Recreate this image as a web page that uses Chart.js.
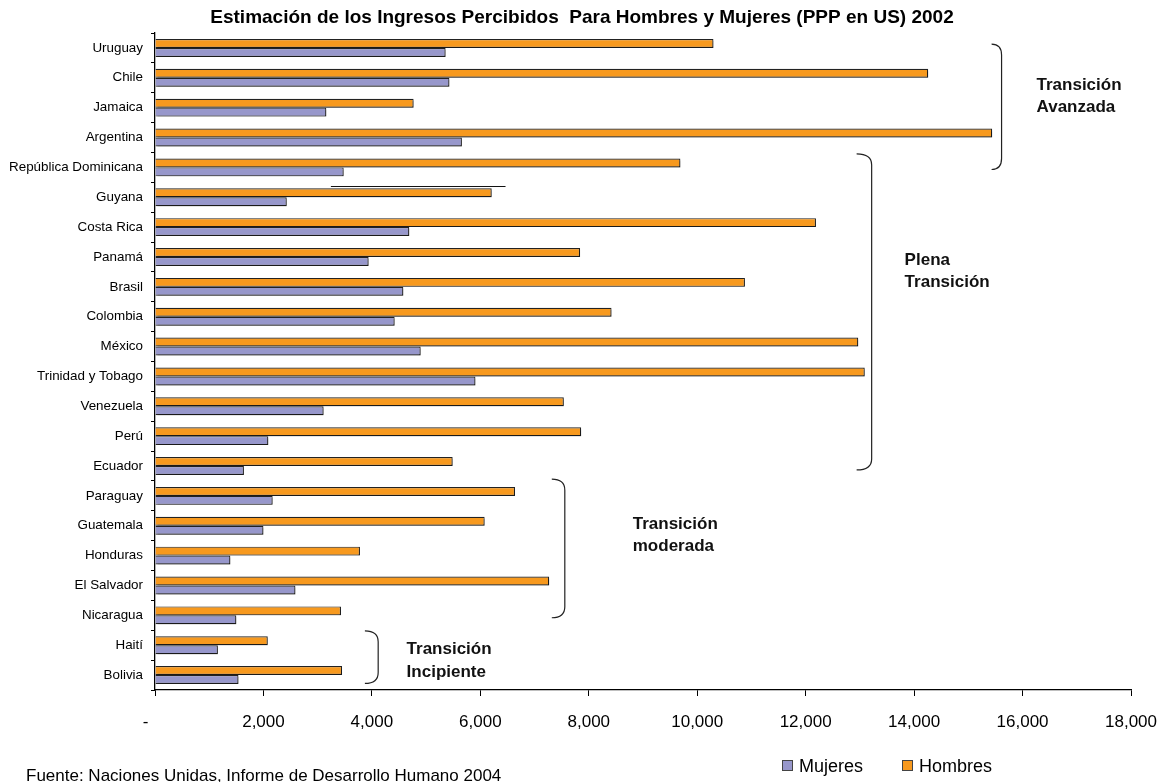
<!DOCTYPE html>
<html>
<head>
<meta charset="utf-8">
<script src="https://cdn.jsdelivr.net/npm/chart.js@4.4.0/dist/chart.umd.min.js"></script>
<style>
  html, body { margin: 0; padding: 0; background: #fff; }
  #wrap { width: 1163px; height: 782px; }
</style>
</head>
<body>
<div id="wrap"><canvas id="ingresos" width="1163" height="782"></canvas></div>
<script>
// Ingresos percibidos por sexo (PPP en US), 2002
const countries = ['Uruguay', 'Chile', 'Jamaica', 'Argentina', 'República Dominicana', 'Guyana',
  'Costa Rica', 'Panamá', 'Brasil', 'Colombia', 'México', 'Trinidad y Tobago', 'Venezuela', 'Perú',
  'Ecuador', 'Paraguay', 'Guatemala', 'Honduras', 'El Salvador', 'Nicaragua', 'Haití', 'Bolivia'];
const hombres = [10300, 14260, 4770, 15440, 9690, 6210, 12190, 7840, 10880, 8420, 12970, 13090,
  7540, 7860, 5490, 6640, 6080, 3780, 7270, 3430, 2080, 3450];
const mujeres = [5360, 5430, 3160, 5660, 3480, 2430, 4690, 3940, 4580, 4420, 4900, 5910,
  3110, 2090, 1640, 2170, 2000, 1390, 2590, 1500, 1160, 1540];
const seriesNames = ['Hombres', 'Mujeres'];
const groupNames = [['Transición', 'Avanzada'], ['Plena', 'Transición'], ['Transición', 'moderada'], ['Transición', 'Incipiente']];
const titleText = 'Estimación de los Ingresos Percibidos  Para Hombres y Mujeres (PPP en US) 2002';
const footnote = 'Fuente: Naciones Unidas, Informe de Desarrollo Humano 2004';

const ORANGE = '#F7991E', PURPLE = '#9797CB', EDGE = '#222';
const FONT = '"Liberation Sans", Arial, sans-serif';

// brackets: x = vertical stroke value, hook = end of curl, from/to in category units
const groupMarks = [
  { x: 15613, hook: 15429, from: -0.13, to: 4.07,  tx: 16258, ty: 1.24 },
  { x: 13217, hook: 12940, from: 3.55,  to: 14.13, tx: 13825, ty: 7.10 },
  { x: 7558,  hook: 7318,  from: 14.44, to: 19.08, tx: 8811,  ty: 15.94 },
  { x: 4116,  hook: 3871,  from: 19.52, to: 21.28, tx: 4640,  ty: 20.14 }
];

// soft grey drop shadow under the bars, like the original
const barShadow = {
  id: 'barShadow',
  beforeDatasetsDraw(chart) {
    const ctx = chart.ctx;
    ctx.save();
    ctx.shadowColor = 'rgba(0,0,0,0.22)';
    ctx.shadowOffsetX = 2; ctx.shadowOffsetY = 2; ctx.shadowBlur = 0;
  },
  afterDatasetsDraw(chart) { chart.ctx.restore(); }
};

const extras = {
  id: 'extras',
  afterDraw(chart) {
    const ctx = chart.ctx;
    const xs = chart.scales.x, ys = chart.scales.y;
    ctx.save();

    // title
    ctx.fillStyle = '#000';
    ctx.font = 'bold 19px ' + FONT;
    ctx.textAlign = 'center'; ctx.textBaseline = 'middle';
    ctx.fillText(titleText, 582, 18);

    // group brackets + labels
    ctx.strokeStyle = '#222'; ctx.lineWidth = 1.2;
    groupMarks.forEach((g, i) => {
      const x1 = xs.getPixelForValue(g.x), x0 = xs.getPixelForValue(g.hook);
      const yT = ys.getPixelForValue(g.from), yB = ys.getPixelForValue(g.to);
      const r = 11;
      ctx.beginPath();
      ctx.moveTo(x0, yT);
      ctx.quadraticCurveTo(x1, yT, x1, yT + r);
      ctx.lineTo(x1, yB - r);
      ctx.quadraticCurveTo(x1, yB, x0, yB);
      ctx.stroke();

      ctx.fillStyle = '#111';
      ctx.font = 'bold 17px ' + FONT;
      ctx.textAlign = 'left'; ctx.textBaseline = 'middle';
      const tx = xs.getPixelForValue(g.tx), ty = ys.getPixelForValue(g.ty);
      groupNames[i].forEach((line, k) => ctx.fillText(line, tx, ty + k * 22.5));
    });

    // stray rule above Guyana (present in source)
    ctx.strokeStyle = '#111'; ctx.lineWidth = 1;
    const ly = Math.round(ys.getPixelForValue(4.64)) + 0.5;
    ctx.beginPath();
    ctx.moveTo(xs.getPixelForValue(3244), ly);
    ctx.lineTo(xs.getPixelForValue(6465), ly);
    ctx.stroke();

    // legend (Mujeres first)
    ctx.font = '18px ' + FONT;
    ctx.textBaseline = 'middle'; ctx.textAlign = 'left';
    const legendItems = [[1, 782], [0, 902]];
    legendItems.forEach(([di, lx]) => {
      const ds = chart.data.datasets[di];
      ctx.fillStyle = ds.backgroundColor;
      ctx.fillRect(lx, 760, 11, 11);
      ctx.strokeStyle = '#444'; ctx.lineWidth = 1;
      ctx.strokeRect(lx + 0.5, 760.5, 10, 10);
      ctx.fillStyle = '#000';
      ctx.fillText(ds.label, lx + 17, 767);
    });

    // source note
    ctx.font = '17px ' + FONT;
    ctx.textBaseline = 'alphabetic';
    ctx.fillStyle = '#000';
    ctx.fillText(footnote, 26, 781);

    ctx.restore();
  }
};

new Chart(document.getElementById('ingresos'), {
  type: 'bar',
  data: {
    labels: countries,
    datasets: [
      { label: seriesNames[0], data: hombres, backgroundColor: ORANGE, borderColor: EDGE, borderWidth: 1.2 },
      { label: seriesNames[1], data: mujeres, backgroundColor: PURPLE, borderColor: EDGE, borderWidth: 1.2 }
    ]
  },
  options: {
    indexAxis: 'y',
    responsive: false,
    animation: false,
    devicePixelRatio: 1,
    categoryPercentage: 0.6,
    barPercentage: 1,
    layout: { padding: { left: 0, right: 32, top: 33, bottom: 0 } },
    plugins: {
      legend: { display: false },
      tooltip: { enabled: false },
      title: { display: false }
    },
    scales: {
      x: {
        min: 0, max: 18000,
        ticks: {
          stepSize: 2000,
          color: '#000',
          padding: 16,
          maxRotation: 0,
          font: { family: FONT, size: 17 },
          callback: v => v === 0 ? '-    ' : v.toLocaleString('en-US')
        },
        grid: { drawOnChartArea: false, tickLength: 6, color: '#000' },
        border: { color: '#000', width: 1.3 },
        afterFit: s => { s.height = 92; s.paddingLeft = 0; s.paddingRight = 0; }
      },
      y: {
        ticks: {
          color: '#000',
          padding: 8,
          autoSkip: false,
          font: { family: FONT, size: 13.4 }
        },
        grid: { drawOnChartArea: false, tickLength: 4, color: '#000', offset: true },
        border: { color: '#000', width: 1.3 },
        afterFit: s => { s.width = 155; s.paddingTop = 0; s.paddingBottom = 0; }
      }
    }
  },
  plugins: [barShadow, extras]
});
</script>
</body>
</html>
